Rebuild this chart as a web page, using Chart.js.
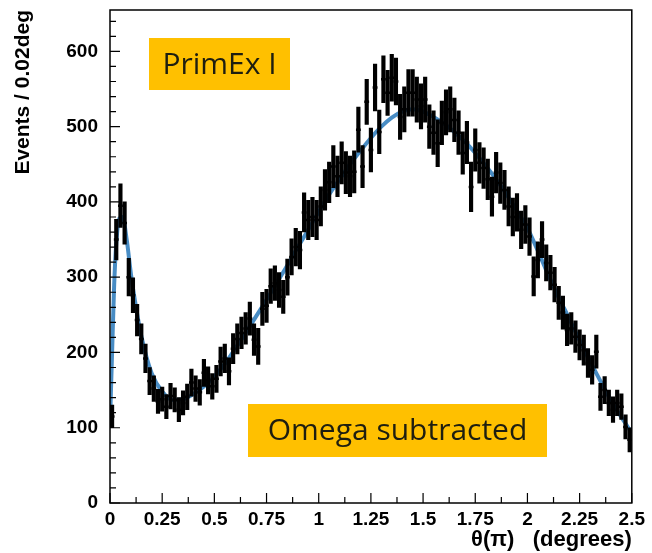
<!DOCTYPE html>
<html>
<head>
<meta charset="utf-8">
<script src="https://cdn.jsdelivr.net/npm/chart.js@4.4.1/dist/chart.umd.min.js"></script>
<style>
    html, body { margin: 0; padding: 0; background: #ffffff; }
    #wrap { width: 652px; height: 553px; }
</style>
</head>
<body>
<div id="wrap"><canvas id="thetaChart" width="652" height="553"></canvas></div>
<script>
// histogram, 0.02 deg bins starting at 0
const binWidth = 0.02;
const counts = [
    115, 350, 395, 372, 300, 276, 243, 218, 192, 162,
    152, 135, 138, 128, 142, 137, 124, 133, 141, 160,
    152, 147, 173, 163, 155, 165, 188, 192, 175, 205,
    218, 226, 232, 245, 217, 208, 258, 262, 288, 292,
    283, 274, 300, 327, 340, 336, 386, 376, 380, 376,
    394, 416, 426, 447, 434, 452, 439, 434, 440, 496,
    447, 533, 469, 552, 493, 563, 545, 565, 560, 513,
    523, 545, 545, 536, 527, 536, 500, 492, 478, 505,
    519, 523, 509, 492, 465, 479, 420, 469, 452, 445,
    430, 407, 439, 425, 416, 394, 380, 386, 363, 370,
    354, 301, 323, 350, 319, 306, 290, 266, 253, 230,
    232, 221, 210, 203, 186, 177, 201, 141, 150, 133,
    124, 133, 128, 101, 84
];
const errors = [
    15, 27, 29, 28, 25, 23, 21, 20, 19, 18,
    17, 16, 16, 16, 17, 16, 16, 16, 17, 18,
    17, 17, 18, 18, 17, 18, 19, 19, 18, 20,
    20, 21, 21, 22, 21, 24, 22, 22, 23, 23,
    23, 22, 24, 24, 25, 25, 26, 26, 26, 26,
    26, 27, 27, 28, 27, 28, 28, 27, 28, 30,
    28, 30, 29, 31, 29, 31, 30, 31, 31, 30,
    30, 31, 31, 30, 30, 30, 29, 29, 31, 29,
    30, 30, 29, 29, 28, 28, 33, 28, 27, 27,
    27, 26, 27, 27, 26, 26, 25, 25, 25, 25,
    25, 26, 24, 24, 24, 23, 23, 22, 22, 21,
    21, 21, 20, 20, 19, 19, 22, 18, 18, 17,
    17, 17, 17, 16, 16
];

// fitted curve
const fitX = [0, 0.01, 0.02, 0.03, 0.045, 0.06, 0.08, 0.1, 0.12, 0.15,
    0.2, 0.25, 0.3, 0.35, 0.4, 0.45, 0.5, 0.55, 0.6, 0.65,
    0.7, 0.75, 0.8, 0.85, 0.9, 0.95, 1.0, 1.05, 1.1, 1.15,
    1.2, 1.25, 1.3, 1.35, 1.4, 1.45, 1.5, 1.55, 1.6, 1.65,
    1.7, 1.75, 1.8, 1.85, 1.9, 1.95, 2.0, 2.05, 2.1, 2.15,
    2.2, 2.25, 2.3, 2.35, 2.4, 2.45, 2.5];
const fitY = [105, 200, 290, 345, 378, 380, 350, 305, 268, 222,
    172, 148, 137, 138, 145, 155, 168, 185, 205, 226,
    248, 270, 293, 316, 340, 363, 387, 410, 430, 450,
    468, 485, 500, 512, 520, 523, 520, 513, 504, 493,
    480, 465, 448, 430, 410, 388, 365, 335, 303, 273,
    245, 216, 188, 162, 136, 114, 93];

const xTicks = [0, 0.25, 0.5, 0.75, 1, 1.25, 1.5, 1.75, 2, 2.25, 2.5];
const yTicks = [0, 100, 200, 300, 400, 500, 600];

const labelBoxes = [
    { text: "PrimEx I", x: 149, y: 38, w: 141, h: 52 },
    { text: "Omega subtracted", x: 248, y: 404, w: 299, h: 53 },
];

const axisFont = { family: "'Liberation Sans', Arial, sans-serif", size: 19, weight: "bold", lineHeight: 1.0 };

// ROOT style frame with ticks pointing inwards
const frameTicks = {
    id: "frameTicks",
    afterDatasetsDraw(chart) {
        const { ctx, chartArea: a, scales } = chart;
        ctx.save();
        ctx.strokeStyle = "#000";
        ctx.lineWidth = 1.5;
        ctx.strokeRect(a.left, a.top, a.right - a.left, a.bottom - a.top);
        ctx.lineWidth = 1.2;
        ctx.beginPath();
        for (let v = 0; v <= 650; v += 20) {
            const y = scales.y.getPixelForValue(v);
            const len = v % 100 === 0 ? 10 : 6;
            ctx.moveTo(a.left, y);
            ctx.lineTo(a.left + len, y);
        }
        for (let k = 0; k <= 20; k++) {
            const x = scales.x.getPixelForValue(k * 0.125);
            const len = k % 2 === 0 ? 10 : 6;
            ctx.moveTo(x, a.bottom);
            ctx.lineTo(x, a.bottom - len);
        }
        ctx.stroke();
        ctx.restore();
    },
};

const boxLabels = {
    id: "boxLabels",
    afterDraw(chart) {
        const ctx = chart.ctx;
        ctx.save();
        labelBoxes.forEach((b) => {
            ctx.fillStyle = "#ffc000";
            ctx.fillRect(b.x, b.y, b.w, b.h);
            ctx.fillStyle = "#1e1e10";
            ctx.font = "30px 'Open Sans', sans-serif";
            ctx.textAlign = "center";
            ctx.textBaseline = "middle";
            ctx.fillText(b.text, b.x + b.w / 2, b.y + b.h / 2 + 1);
        });
        ctx.restore();
    },
};

const ctx = document.getElementById("thetaChart").getContext("2d");

new Chart(ctx, {
    type: "scatter",
    data: {
        datasets: [
            {
                type: "line",
                label: "fit",
                data: fitX.map((x, i) => ({ x: x, y: fitY[i] })),
                borderColor: "rgba(52, 128, 190, 0.9)",
                borderWidth: 4,
                pointRadius: 0,
                cubicInterpolationMode: "monotone",
                fill: false,
                order: 3,
            },
            {
                type: "bar",
                label: "errors",
                data: counts.map((c, i) => ({ x: (i + 0.5) * binWidth, y: [c - errors[i], c + errors[i]] })),
                backgroundColor: "#000",
                barThickness: 3.5,
                grouped: false,
                order: 1,
            },
            {
                type: "scatter",
                label: "counts",
                data: counts.map((c, i) => ({ x: (i + 0.5) * binWidth, y: c })),
                pointStyle: "line",
                pointRadius: 2.4,
                borderWidth: 2.5,
                borderColor: "#000",
                order: 0,
            },
        ],
    },
    options: {
        responsive: false,
        animation: false,
        layout: { padding: { top: 0, right: 20, left: 0, bottom: 0 } },
        plugins: {
            legend: { display: false },
            tooltip: { enabled: false },
        },
        scales: {
            x: {
                type: "linear",
                min: 0,
                max: 2.5,
                offset: false,
                grid: { display: false, drawTicks: false },
                border: { display: false },
                afterBuildTicks: (scale) => {
                    scale.ticks = xTicks.map((v) => ({ value: v }));
                },
                afterFit: (scale) => {
                    scale.height = 50;
                },
                ticks: {
                    color: "#000",
                    font: axisFont,
                    padding: 7,
                    autoSkip: false,
                    maxRotation: 0,
                    callback: (v) => String(Math.round(v * 100) / 100),
                },
                title: {
                    display: true,
                    text: "θ(π)   (degrees)",
                    align: "end",
                    color: "#000",
                    font: { family: "'Liberation Sans', Arial, sans-serif", size: 22, weight: "bold" },
                    padding: { top: 0, bottom: 0 },
                },
            },
            y: {
                type: "linear",
                min: 0,
                max: 655,
                grid: { display: false, drawTicks: false },
                border: { display: false },
                afterBuildTicks: (scale) => {
                    scale.ticks = yTicks.map((v) => ({ value: v }));
                },
                afterFit: (scale) => {
                    scale.width = 110;
                    scale.paddingTop = 10;
                    scale.paddingBottom = 0;
                },
                ticks: {
                    color: "#000",
                    font: axisFont,
                    padding: 12,
                },
                title: {
                    display: true,
                    text: "Events / 0.02deg",
                    align: "end",
                    color: "#000",
                    font: { family: "'Liberation Sans', Arial, sans-serif", size: 21, weight: "bold" },
                    padding: { top: 11, bottom: 0 },
                },
            },
        },
    },
    plugins: [frameTicks, boxLabels],
});
</script>
</body>
</html>
